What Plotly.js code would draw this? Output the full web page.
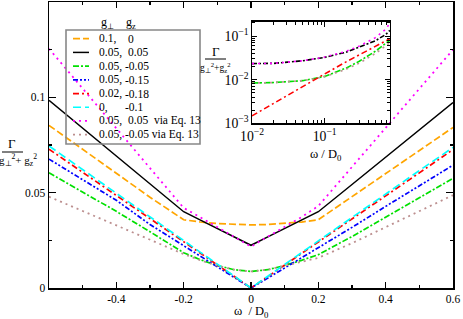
<!DOCTYPE html>
<html><head><meta charset="utf-8">
<script src="https://cdn.plot.ly/plotly-3.0.1.min.js"></script>
<style>html,body{margin:0;padding:0;background:#fff;} #chart{width:463px;height:319px;}</style>
</head><body><div id="chart"></div>
<script>
// ---- main panel data: Gamma/(g_perp^2+g_z^2) vs omega/D0 ----
const omega = [-0.6,-0.5,-0.4,-0.3,-0.2,-0.15,-0.1,-0.05,0,0.05,0.1,0.15,0.2,0.3,0.4,0.5,0.6];
const sOrange  = [0.0853,0.0727,0.0601,0.0476,0.0358,0.0346,0.0338,0.0333,0.0331,0.0333,0.0338,0.0346,0.0358,0.0478,0.0600,0.0721,0.0842];
const sBlack   = [0.0984,0.0838,0.0692,0.0546,0.0400,0.0356,0.0312,0.0268,0.0224,0.0268,0.0312,0.0356,0.0400,0.0543,0.0687,0.0830,0.0973];
const sGreen   = [0.0604,0.0503,0.0402,0.0295,0.0185,0.0148,0.0118,0.0096,0.0087,0.0096,0.0118,0.0145,0.0175,0.0270,0.0370,0.0473,0.0575];
const sBlue    = [0.0676,0.0568,0.0460,0.0333,0.0222,0.0166,0.0110,0.0055,0.0000,0.0052,0.0105,0.0158,0.0210,0.0318,0.0428,0.0536,0.0644];
const sRed     = [0.0728,0.0607,0.0486,0.0364,0.0243,0.0182,0.0121,0.0061,0.0000,0.0060,0.0120,0.0180,0.0240,0.0360,0.0483,0.0604,0.0726];
const sCyan    = [0.0745,0.0622,0.0498,0.0373,0.0249,0.0187,0.0125,0.0062,0.0000,0.0062,0.0124,0.0186,0.0248,0.0371,0.0494,0.0616,0.0737];
const sMagenta = [0.1255,0.1046,0.0837,0.0628,0.0420,0.0370,0.0320,0.0270,0.0217,0.0270,0.0320,0.0372,0.0430,0.0635,0.0840,0.1045,0.1250];
const sBrown   = [0.0479,0.0404,0.0328,0.0253,0.0178,0.0145,0.0117,0.0096,0.0087,0.0096,0.0116,0.0138,0.0158,0.0235,0.0320,0.0403,0.0487];

// ---- inset data (log-log) ----
const insetOmega = [0.01,0.02,0.05,0.1,0.2,0.3,0.5,0.7,0.79];
const iBlack   = [0.0234,0.0237,0.0272,0.0325,0.043,0.055,0.078,0.11,0.135];
const iMagenta = [0.0234,0.0237,0.0272,0.033,0.045,0.059,0.092,0.145,0.20];
const iGreen   = [0.0084,0.0086,0.0095,0.0119,0.0186,0.0265,0.045,0.068,0.08];
const iBrown   = [0.0084,0.0086,0.0095,0.0117,0.0175,0.024,0.040,0.060,0.07];
const iRed     = [0.00148,0.0029,0.0071,0.0135,0.026,0.037,0.057,0.078,0.087];

// ---- legend labels ----
const legendA = ["0.1,","0.05,","0.05,","0.05,","0.02,","0,","0.05,","0.05,"];
const legendB = ["0","0.05","-0.05","-0.15","-0.18","-0.1","0.05\u00a0\u00a0via Eq. 13","-0.05 via Eq. 13"];
const xTicks = [-0.4,-0.2,0,0.2,0.4,0.6];
const xTickText = ["-0.4","-0.2","0","0.2","0.4","0.6"];
const yTicks = [0,0.05,0.1];
const yTickText = ["0","0.05","0.1"];

const mainSeries = [sOrange,sBlack,sGreen,sBlue,sRed,sCyan,sMagenta,sBrown];
const colors = ["#FFA500","#000000","#00E000","#0000FF","#FF0000","#00FFFF","#FF00FF","#BC8F8F"];
const dashes = ["7px,3px","solid","6px,2px,2px,2px","5px,2px,2px,2px,2px,2px","6px,3px,2px,3px","8px,4px","2px,4px","2px,4px"];
const widths = [1.7,1.5,1.7,1.7,1.7,1.7,1.8,1.8];

const insetSeries = [[iBlack,1],[iMagenta,6],[iGreen,2],[iBrown,7],[iRed,4]];

const FONT = "Liberation Serif";
const L=49, R=10, T=2, B=31, W=463, H=319;
const PW = W-L-R, PH = H-T-B;
const pxX = p => (p-L)/PW;
const pxY = p => (H-B-p)/PH;

const traces = [];
mainSeries.forEach((s,i)=>{
  traces.push({x:omega,y:s,type:'scatter',mode:'lines',xaxis:'x',yaxis:'y',
    line:{color:colors[i],width:widths[i],dash:dashes[i]},showlegend:false,hoverinfo:'skip'});
});
insetSeries.forEach(([s,ci])=>{
  traces.push({x:insetOmega,y:s,type:'scatter',mode:'lines',xaxis:'x2',yaxis:'y2',
    line:{color:colors[ci],width:1.6,dash:ci===1?"5px,2px,2px,2px":dashes[ci]},showlegend:false,hoverinfo:'skip'});
});

const shapes = [];
const annotations = [];
const txt = (x,y,text,size,anchor) => annotations.push({xref:'paper',yref:'paper',x:pxX(x),y:pxY(y),
  xanchor:anchor||'left',yanchor:'middle',text:text,showarrow:false,font:{family:FONT,size:size,color:'#000'}});
// legend box
shapes.push({type:'rect',xref:'paper',yref:'paper',x0:pxX(66),x1:pxX(200),y0:pxY(144),y1:pxY(30),
  line:{color:'#888888',width:1.6},fillcolor:'rgba(255,255,255,0)',layer:'above'});
legendA.forEach((a,i)=>{
  const yy = 38.7 + i*13.71;
  shapes.push({type:'line',xref:'paper',yref:'paper',x0:pxX(73),x1:pxX(89),y0:pxY(yy),y1:pxY(yy),
    line:{color:colors[i],width:widths[i],dash:dashes[i]}});
  txt(96.5,yy,a,11.5);
  const b = legendB[i];
  txt(b.startsWith('-')?123:125.5,yy,b,11.5);
});
// legend header
txt(99,23,'g<sub>\u22a5</sub>',12);
txt(124,23,'g<sub>z</sub>',12);

// main y title (fraction)
txt(12,143,'\u0393',13,'center');
shapes.push({type:'line',xref:'paper',yref:'paper',x0:pxX(2),x1:pxX(23),y0:pxY(152),y1:pxY(152),line:{color:'#000',width:1}});
txt(18,160,'g<sub>\u22a5</sub><sup>2</sup>+ g<sub>z</sub><sup>2</sup>',11,'center');
// main x title
txt(251,312,'\u03c9\u00a0 / D<sub>0</sub>',12.5,'center');

// inset y title
txt(215.5,51,'\u0393',13,'center');
shapes.push({type:'line',xref:'paper',yref:'paper',x0:pxX(205),x1:pxX(226),y0:pxY(59),y1:pxY(59),line:{color:'#000',width:1}});
txt(215,68,'g<sub>\u22a5</sub><sup>2</sup>+g<sub>z</sub><sup>2</sup>',9.5,'center');
// inset x title
txt(326,155,'\u03c9 / D<sub>0</sub>',12.5,'center');

const axBase = {showline:true,linecolor:'#000',linewidth:1.5,mirror:'ticks',ticks:'inside',tickcolor:'#000',
  showgrid:false,zeroline:false,tickfont:{family:FONT,size:11.5,color:'#000'}};

const layout = {
  width:W,height:H,margin:{l:L,r:R,t:T,b:B},paper_bgcolor:'#fff',plot_bgcolor:'rgba(0,0,0,0)',
  showlegend:false,font:{family:FONT},
  xaxis:Object.assign({},axBase,{domain:[0,1],range:[-0.6,0.6],tickmode:'array',tickvals:xTicks,ticktext:xTickText,
    ticklen:6,tickwidth:1.2,anchor:'y',
    minor:{dtick:0.1,tick0:0,ticks:'inside',ticklen:3,tickcolor:'#000',tickwidth:1.2}}),
  yaxis:Object.assign({},axBase,{domain:[0,1],range:[0,0.15],tickmode:'array',tickvals:yTicks,ticktext:yTickText,
    ticklen:7,tickwidth:1.2,anchor:'x',
    minor:{dtick:0.025,tick0:0,ticks:'inside',ticklen:3,tickcolor:'#000',tickwidth:1.2}}),
  xaxis2:Object.assign({},axBase,{type:'log',domain:[pxX(252),pxX(390)],range:[-2,-0.1],anchor:'y2',
    dtick:1,exponentformat:'power',showexponent:'all',ticklen:5,tickwidth:1,linewidth:1.3,
    tickfont:{family:FONT,size:11,color:'#000'},
    minor:{dtick:'D1',ticks:'inside',ticklen:3,tickcolor:'#000',tickwidth:1}}),
  yaxis2:Object.assign({},axBase,{type:'log',domain:[pxY(123.3),pxY(21.7)],range:[-3,-0.67],anchor:'x2',
    dtick:1,exponentformat:'power',showexponent:'all',ticklen:5,tickwidth:1,linewidth:1.3,
    tickfont:{family:FONT,size:11,color:'#000'},
    minor:{dtick:'D1',ticks:'inside',ticklen:3,tickcolor:'#000',tickwidth:1}}),
  shapes:shapes,annotations:annotations
};

Plotly.newPlot('chart',traces,layout,{staticPlot:true,displayModeBar:false});
</script></body></html>
